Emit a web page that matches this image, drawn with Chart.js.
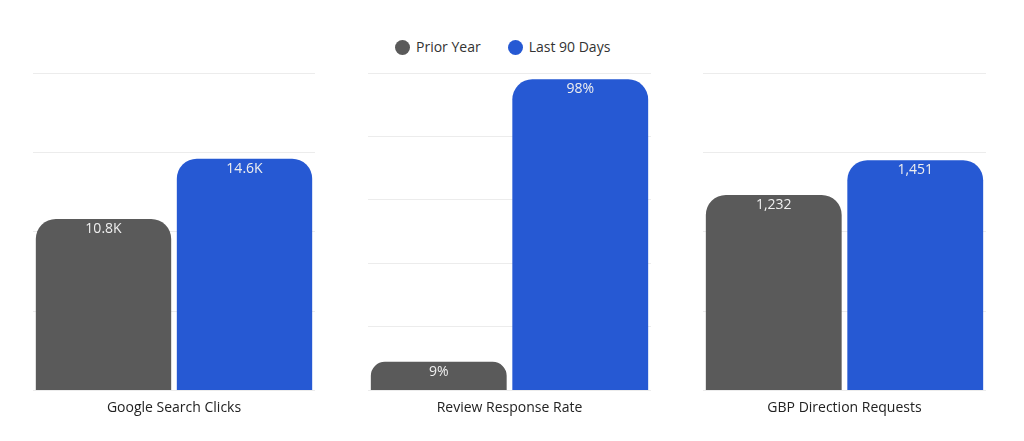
<!DOCTYPE html>
<html>
<head>
<meta charset="utf-8">
<script src="https://cdn.jsdelivr.net/npm/chart.js@4/dist/chart.umd.min.js"></script>
<style>
  html, body { margin: 0; padding: 0; background: #fff; }
  body { width: 1024px; height: 441px; position: relative; overflow: hidden; font-family: "Open Sans", sans-serif; }
  .panel { position: absolute; top: 0; height: 441px; }
  #legend { position: absolute; top: 37px; left: 395px; display: flex; font-size: 14px; color: #333; line-height: 20px; }
  #legend span.item { display: flex; align-items: center; margin-right: 27px; }
  #legend span.dot { width: 15px; height: 15px; border-radius: 50%; margin-right: 6px; display: inline-block; }
</style>
</head>
<body>
<div id="legend"></div>
<div class="panel" style="left:33px;width:282px"><canvas id="c0"></canvas></div>
<div class="panel" style="left:368px;width:283px"><canvas id="c1"></canvas></div>
<div class="panel" style="left:703px;width:283px"><canvas id="c2"></canvas></div>
<script>
// data
const categories = ['Google Search Clicks', 'Review Response Rate', 'GBP Direction Requests'];
const seriesNames = ['Prior Year', 'Last 90 Days'];
const priorYear = [10800, 9, 1232];
const last90Days = [14600, 98, 1451];
const axisMax = [20000, 100, 2000];
const axisStep = [5000, 20, 500];
const labelFormat = ['K', '%', 'comma'];

const colors = ['#5a5a5a', '#2659d3'];

// html legend
var legendEl = document.getElementById('legend');
seriesNames.forEach(function (name, i) {
  var item = document.createElement('span');
  item.className = 'item';
  item.innerHTML = '<span class="dot" style="background:' + colors[i] + '"></span>' + name;
  legendEl.appendChild(item);
});

function formatValue(v, kind) {
  if (kind === 'K') return (v / 1000).toFixed(1) + 'K';
  if (kind === '%') return v + '%';
  return v.toLocaleString('en-US');
}

// draw value labels just inside the top of each bar
const valueLabels = {
  id: 'valueLabels',
  afterDatasetsDraw(chart) {
    const ctx = chart.ctx;
    const kind = chart.options.plugins.valueLabels.kind;
    ctx.save();
    ctx.font = '14px "Open Sans"';
    ctx.fillStyle = '#efefef';
    ctx.textAlign = 'center';
    ctx.textBaseline = 'middle';
    chart.data.datasets.forEach(function (ds, i) {
      chart.getDatasetMeta(i).data.forEach(function (bar, j) {
        ctx.fillText(formatValue(ds.data[j], kind), bar.x, bar.y + 10);
      });
    });
    ctx.restore();
  }
};

categories.forEach(function (cat, k) {
  var ctx = document.getElementById('c' + k).getContext('2d');
  new Chart(ctx, {
    type: 'bar',
    data: {
      labels: [cat],
      datasets: [
        {
          label: seriesNames[0],
          data: [priorYear[k]],
          backgroundColor: colors[0],
          borderRadius: { topLeft: 20, topRight: 20 },
          borderSkipped: 'start'
        },
        {
          label: seriesNames[1],
          data: [last90Days[k]],
          backgroundColor: colors[1],
          borderRadius: { topLeft: 20, topRight: 20 },
          borderSkipped: 'start'
        }
      ]
    },
    options: {
      responsive: true,
      maintainAspectRatio: false,
      animation: false,
      categoryPercentage: 1,
      barPercentage: 0.96,
      layout: { padding: { top: 73, bottom: 14.6, left: 0, right: 0 } },
      scales: {
        x: {
          grid: { display: false, drawTicks: false },
          border: { display: false },
          ticks: { color: '#222', padding: 9.6, font: { family: 'Open Sans', size: 14 } }
        },
        y: {
          min: 0,
          max: axisMax[k],
          ticks: { display: false, stepSize: axisStep[k] },
          grid: { color: '#ececec', drawTicks: false },
          border: { display: false }
        }
      },
      plugins: {
        legend: { display: false },
        tooltip: { enabled: false },
        valueLabels: { kind: labelFormat[k] }
      }
    },
    plugins: [valueLabels]
  });
});
</script>
</body>
</html>
